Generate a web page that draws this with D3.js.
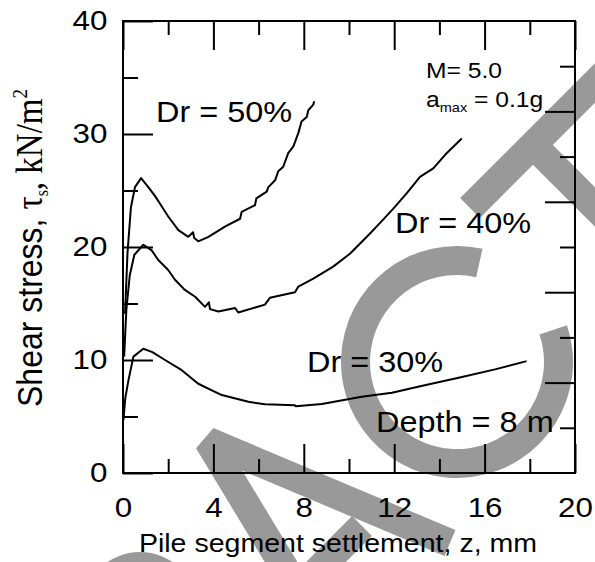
<!DOCTYPE html>
<html>
<head>
<meta charset="utf-8">
<script src="https://cdn.jsdelivr.net/npm/d3@7"></script>
<style>
  body { margin: 0; background: white; }
  svg { display: block; }
  .tick text { font-family: "Liberation Sans", Arial, sans-serif; }
</style>
</head>
<body>
<div class="chart"></div>
<script>
// data (z in mm, shear stress in kN/m2)
const dr50z = [0.09, 0.2, 0.35, 0.53, 0.8, 1.12, 1.42, 1.71, 2.0, 2.45, 2.89, 3.1, 3.15, 3.33, 3.78, 4.51, 5.18, 5.25, 5.84, 5.9, 6.36, 6.43, 6.73, 6.87, 7.09, 7.31, 7.54, 7.76, 7.9, 8.13, 8.2, 8.42, 8.46];
const dr50t = [14.1, 19.5, 23.5, 25.3, 26.1, 25.3, 24.5, 23.6, 22.7, 21.5, 20.9, 21.3, 20.8, 20.5, 20.9, 21.8, 22.5, 23.1, 23.7, 24.3, 24.9, 25.3, 25.9, 26.7, 27.1, 28.3, 28.9, 30.1, 31.1, 31.5, 32.1, 32.6, 32.9];

const dr40z = [0.05, 0.15, 0.3, 0.5, 0.9, 1.27, 1.56, 2.0, 2.3, 2.74, 3.19, 3.63, 3.8, 3.85, 4.22, 4.96, 5.1, 6.28, 6.5, 7.61, 7.76, 8.42, 9.3, 10.04, 10.93, 11.5, 11.96, 12.55, 13.14, 13.73, 14.32, 14.99];
const dr40t = [10.3, 14.5, 17.5, 19.3, 20.2, 19.7, 18.85, 17.96, 17.1, 16.2, 15.6, 14.7, 15.1, 14.5, 14.3, 14.6, 14.2, 14.9, 15.5, 16.0, 16.5, 17.2, 18.26, 19.4, 21.2, 22.4, 23.4, 24.75, 26.2, 26.96, 28.3, 29.6];

const dr30z = [0.02, 0.1, 0.24, 0.46, 0.9, 1.3, 1.86, 2.6, 3.33, 4.37, 5.55, 6.28, 7.6, 7.65, 8.8, 10.56, 11.9, 13.2, 15.0, 16.46, 17.86];
const dr30t = [4.7, 6.6, 8.2, 10.3, 11.0, 10.7, 10.0, 9.1, 7.9, 6.9, 6.3, 6.08, 6.0, 5.9, 6.1, 6.75, 7.1, 7.7, 8.5, 9.17, 9.9];

const xMajor = [0, 4, 8, 12, 16, 20];
const xMinor = [2, 6, 10, 14, 18];
const yMajor = [0, 10, 20, 30, 40];
const yMinor = [5, 15, 25, 35];
const rMajor = [8, 16, 24, 32];
const rMinor = [4, 12, 20, 28, 36];

const series = [
    {z: dr50z, t: dr50t},
    {z: dr40z, t: dr40t},
    {z: dr30z, t: dr30t}
];

// page and plot box
const W = 595, H = 562;
const box = {left: 123, top: 21, right: 575, bottom: 473};
const stretch = 1.12;   // text in the picture is a bit wide
const sans = '"Liberation Sans", Arial, sans-serif';
const serif = '"Liberation Serif", "Times New Roman", serif';

const svg = d3.select(".chart").append("svg")
    .attr("width", W)
    .attr("height", H);

const x = d3.scaleLinear().domain([0, 20]).range([box.left, box.right]);
const y = d3.scaleLinear().domain([0, 40]).range([box.bottom, box.top]);

// grey letters behind the chart
const wm = svg.append("g").attr("fill", "none").attr("stroke", "#999").attr("stroke-width", 28);
wm.append("path")
    .attr("d", "M295,585 L208,441 L450,543")
    .attr("stroke-linejoin", "bevel");
wm.append("path").attr("d", "M362,526 L296,592");
wm.append("path")
    .attr("transform", "translate(457,362)")
    .attr("fill", "#999").attr("stroke", "none")
    .attr("d", d3.arc()
        .innerRadius(87).outerRadius(116)
        .startAngle(71.5 * Math.PI / 180)
        .endAngle(372.7 * Math.PI / 180)());
wm.append("path")
    .attr("transform", "translate(140,610)")
    .attr("fill", "#999").attr("stroke", "none")
    .attr("d", d3.arc()
        .innerRadius(30).outerRadius(58)
        .startAngle(-Math.PI / 2)
        .endAngle(Math.PI / 2)());
wm.append("path").attr("d", "M470,208 L625,53");
wm.append("path").attr("d", "M533,145 L650,262");

// frame
svg.append("rect")
    .attr("x", box.left).attr("y", box.top)
    .attr("width", box.right - box.left).attr("height", box.bottom - box.top)
    .attr("fill", "none").attr("stroke", "black").attr("stroke-width", 2);

function ticksOnly(axis, at, values, size) {
    svg.append("g")
        .attr("transform", at)
        .call(axis.tickValues(values).tickSize(-size).tickFormat(""))
        .call(g => g.select(".domain").remove())
        .call(g => g.selectAll(".tick line").attr("stroke-width", 2));
}

// bottom axis with labels
svg.append("g")
    .attr("transform", `translate(0,${box.bottom})`)
    .call(d3.axisBottom(x).tickValues(xMajor).tickSize(-29).tickPadding(24))
    .call(g => g.select(".domain").remove())
    .call(g => g.selectAll(".tick line").attr("stroke-width", 2))
    .call(g => g.selectAll(".tick text")
        .attr("font-size", 28).attr("fill", "black")
        .attr("transform", `scale(${stretch},1)`));
ticksOnly(d3.axisBottom(x), `translate(0,${box.bottom})`, xMinor, 14);
ticksOnly(d3.axisTop(x), `translate(0,${box.top})`, xMajor, 29);
ticksOnly(d3.axisTop(x), `translate(0,${box.top})`, xMinor, 14);

// left axis with labels
svg.append("g")
    .attr("transform", `translate(${box.left},0)`)
    .call(d3.axisLeft(y).tickValues(yMajor).tickSize(-30).tickPadding(14))
    .call(g => g.select(".domain").remove())
    .call(g => g.selectAll(".tick line").attr("stroke-width", 2))
    .call(g => g.selectAll(".tick text")
        .attr("font-size", 28).attr("fill", "black")
        .attr("transform", `scale(${stretch},1)`));
ticksOnly(d3.axisLeft(y), `translate(${box.left},0)`, yMinor, 15);
ticksOnly(d3.axisRight(y), `translate(${box.right},0)`, rMajor, 30);
ticksOnly(d3.axisRight(y), `translate(${box.right},0)`, rMinor, 15);

// the three curves
const line = d3.line()
    .x(d => x(d[0]))
    .y(d => y(d[1]));

svg.selectAll(".curve")
    .data(series)
    .join("path")
    .attr("class", "curve")
    .attr("fill", "none")
    .attr("stroke", "black")
    .attr("stroke-width", 2)
    .attr("stroke-linejoin", "round")
    .attr("d", s => line(s.z.map((z, i) => [z, s.t[i]])));

// labels in the plot
function label(txt, px, py, size) {
    return svg.append("text")
        .attr("transform", `translate(${px},${py}) scale(${stretch},1)`)
        .attr("font-family", sans)
        .attr("font-size", size)
        .text(txt);
}
label("Dr = 50%", 156, 122, 29);
label("Dr = 40%", 395, 233, 29);
label("Dr = 30%", 307, 372, 29);
label("Depth = 8 m", 376, 432, 29);
label("M= 5.0", 426, 78, 22);

const amax = svg.append("text")
    .attr("transform", `translate(426,107) scale(${stretch},1)`)
    .attr("font-family", sans)
    .attr("font-size", 22);
amax.append("tspan").text("a");
amax.append("tspan").attr("font-size", 13).attr("dy", 5).text("max");
amax.append("tspan").attr("dy", -5).text(" = 0.1g");

// x title
svg.append("text")
    .attr("transform", `translate(338,552) scale(${stretch},1)`)
    .attr("text-anchor", "middle")
    .attr("font-family", sans)
    .attr("font-size", 25.5)
    .text("Pile segment settlement, z, mm");

// y title
const yt = svg.append("text")
    .attr("transform", `translate(42,407) scale(${stretch},1) rotate(-90)`)
    .attr("font-family", sans)
    .attr("font-size", 32);
yt.append("tspan").text("Shear stress, ");
yt.append("tspan").attr("font-family", serif).attr("font-size", 33).text("τ");
yt.append("tspan").attr("font-family", serif).attr("font-size", 16).attr("dy", 5).text("s");
yt.append("tspan").attr("font-family", serif).attr("font-size", 33).attr("dy", -5).text(", kN/m");
yt.append("tspan").attr("font-family", serif).attr("font-size", 19).attr("dy", -13).text("2");
</script>
</body>
</html>
